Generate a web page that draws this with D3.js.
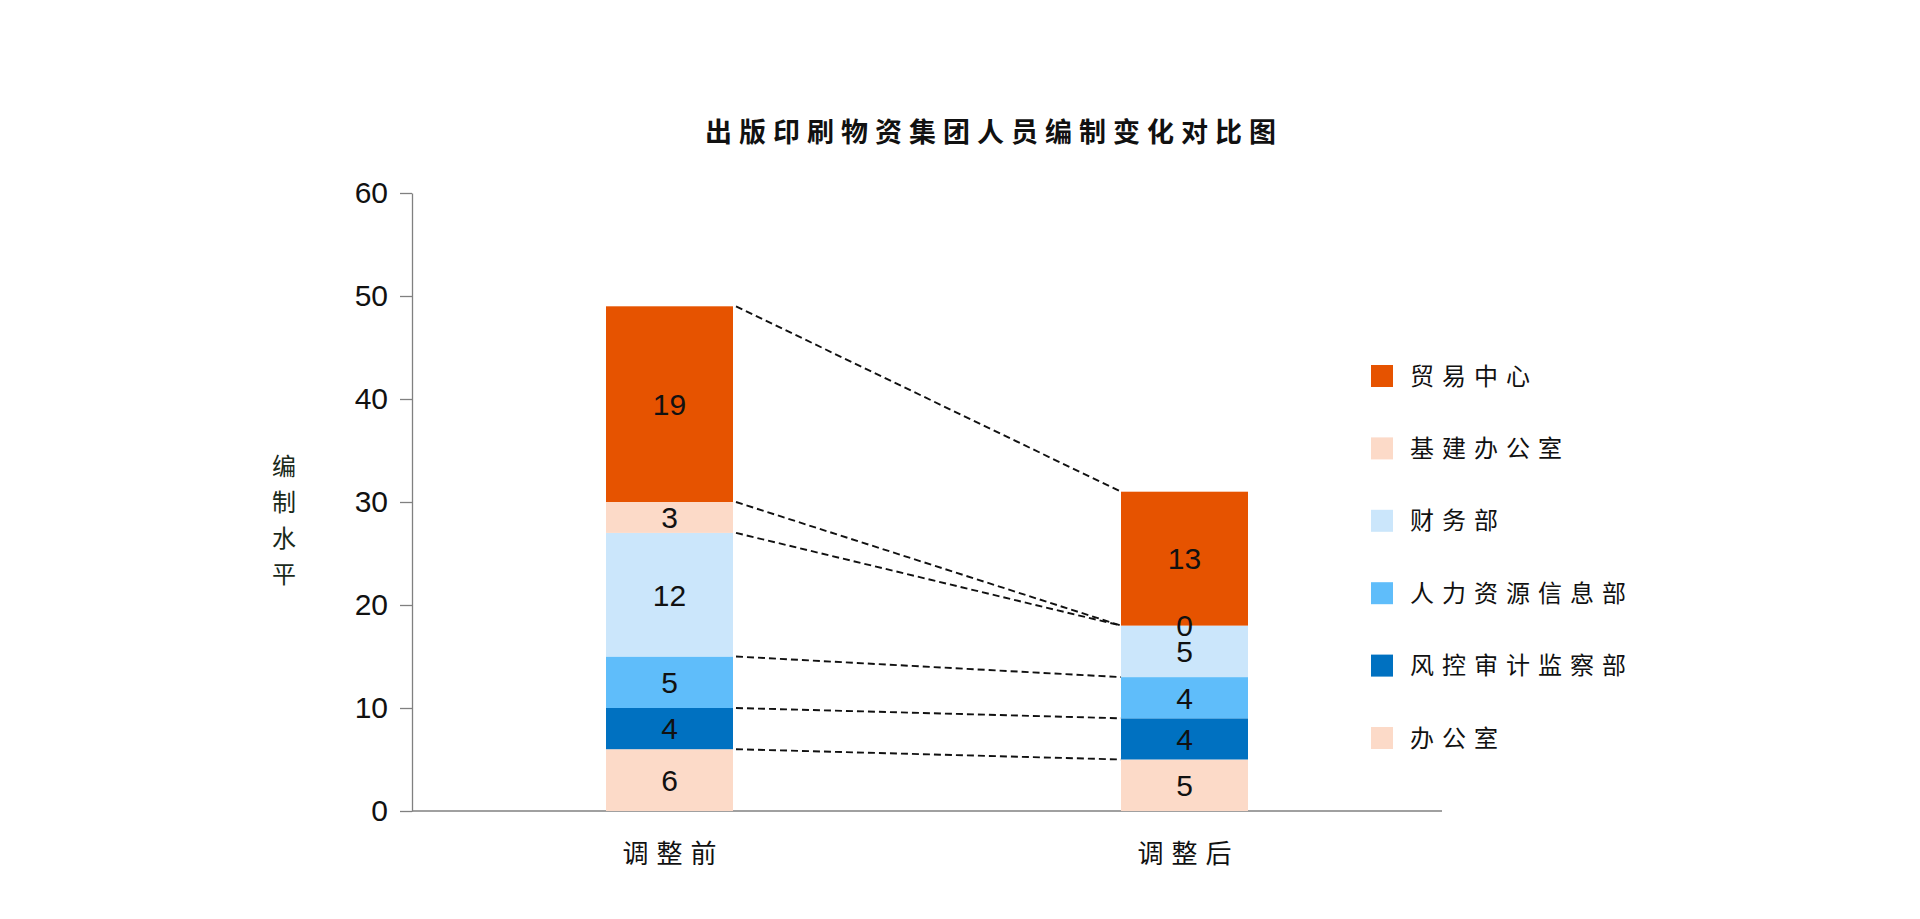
<!DOCTYPE html>
<html>
<head>
<meta charset="utf-8">
<script src="https://cdn.jsdelivr.net/npm/d3@7/dist/d3.min.js"></script>
<style>
html,body{margin:0;padding:0;background:#fff;}
svg{display:block;}
</style>
</head>
<body>
<svg id="chart" width="1920" height="919"></svg>
<script>
// ---- data ----
const title = "出版印刷物资集团人员编制变化对比图";
const yAxisLabel = ["编", "制", "水", "平"];
const categories = ["调整前", "调整后"];
const seriesNames = ["办公室", "风控审计监察部", "人力资源信息部", "财务部", "基建办公室", "贸易中心"];
const valuesBefore = [6, 4, 5, 12, 3, 19];
const valuesAfter = [5, 4, 4, 5, 0, 13];
const seriesColors = ["#FCDAC8", "#0071C1", "#5FBDFA", "#CBE6FB", "#FCDAC8", "#E65300"];
const yTicks = [0, 10, 20, 30, 40, 50, 60];

// ---- layout ----
const svg = d3.select("#chart");
const cjk = "'Noto Sans CJK SC', sans-serif";
const latin = "'Liberation Sans', Arial, sans-serif";
const axisX0 = 412, axisX1 = 1442, yBottom = 811, yTop = 193;
const barWidth = 127;

const x = d3.scalePoint().domain(categories).range([axisX0, axisX1]).padding(0.5);
const y = d3.scaleLinear().domain([0, 60]).range([yBottom, yTop]);

// stack data
const rows = categories.map((c, i) => {
  const r = { cat: c };
  seriesNames.forEach((s, j) => { r[s] = (i === 0 ? valuesBefore : valuesAfter)[j]; });
  return r;
});
const stacked = d3.stack().keys(seriesNames)(rows);

// title
svg.append("text")
  .attr("x", 994).attr("y", 142)
  .attr("text-anchor", "middle")
  .style("font-family", cjk).style("font-size", "27px").style("font-weight", "700")
  .style("letter-spacing", "7px").attr("fill", "#111")
  .text(title);

// y axis
const yAxis = d3.axisLeft(y).tickValues(yTicks).tickSize(12).tickPadding(12).tickSizeOuter(0);
const gy = svg.append("g").attr("transform", `translate(${axisX0},0)`).call(yAxis);
gy.select(".domain").attr("stroke", "#808080").attr("stroke-width", 1.3);
gy.selectAll(".tick line").attr("stroke", "#808080").attr("stroke-width", 1.3);
gy.selectAll(".tick text").style("font-family", latin).style("font-size", "30px").attr("fill", "#111");

// x axis line
svg.append("line")
  .attr("x1", axisX0).attr("x2", axisX1).attr("y1", y(0)).attr("y2", y(0))
  .attr("stroke", "#808080").attr("stroke-width", 1.3);

// category labels
svg.selectAll(".cat").data(categories).enter().append("text")
  .attr("x", d => x(d) + 4).attr("y", 863)
  .attr("text-anchor", "middle")
  .style("font-family", cjk).style("font-size", "26px").style("letter-spacing", "8px")
  .attr("fill", "#111").text(d => d);

// y axis label (vertical stacked characters)
svg.selectAll(".ylab").data(yAxisLabel).enter().append("text")
  .attr("x", 284).attr("y", (d, i) => 475 + i * 36)
  .attr("text-anchor", "middle")
  .style("font-family", cjk).style("font-size", "24px")
  .attr("fill", "#1a2a1a").text(d => d);

// bars
const layers = svg.selectAll(".layer").data(stacked).enter().append("g")
  .attr("fill", (d, i) => seriesColors[i]);
layers.selectAll("rect").data(d => d).enter().append("rect")
  .attr("x", d => x(d.data.cat) - barWidth / 2)
  .attr("width", barWidth)
  .attr("y", d => y(d[1]))
  .attr("height", d => y(d[0]) - y(d[1]));

// connector dashed lines between segment tops
stacked.forEach(layer => {
  const a = layer[0], b = layer[1];
  svg.append("line")
    .attr("x1", x(categories[0]) + barWidth / 2 + 3).attr("y1", y(a[1]))
    .attr("x2", x(categories[1]) - barWidth / 2).attr("y2", y(b[1]))
    .attr("stroke", "#111").attr("stroke-width", 1.9)
    .attr("stroke-dasharray", "7,4");
});

// value labels
stacked.forEach(layer => {
  layer.forEach(d => {
    svg.append("text")
      .attr("x", x(d.data.cat))
      .attr("y", y((d[0] + d[1]) / 2))
      .attr("dy", "0.36em")
      .attr("text-anchor", "middle")
      .style("font-family", latin).style("font-size", "30px")
      .attr("fill", "#111")
      .text(d[1] - d[0]);
  });
});

// legend (top to bottom: reverse stack order)
const legendItems = seriesNames.map((s, i) => ({ name: s, color: seriesColors[i] })).reverse();
const lg = svg.selectAll(".lg").data(legendItems).enter().append("g")
  .attr("transform", (d, i) => `translate(1371, ${376 + i * 72.4})`);
lg.append("rect").attr("x", 0).attr("y", -11).attr("width", 22).attr("height", 22)
  .attr("fill", d => d.color);
lg.append("text").attr("x", 39).attr("y", 0).attr("dy", "0.36em")
  .style("font-family", cjk).style("font-size", "24px").style("letter-spacing", "8px")
  .attr("fill", "#111").text(d => d.name);
</script>
</body>
</html>
